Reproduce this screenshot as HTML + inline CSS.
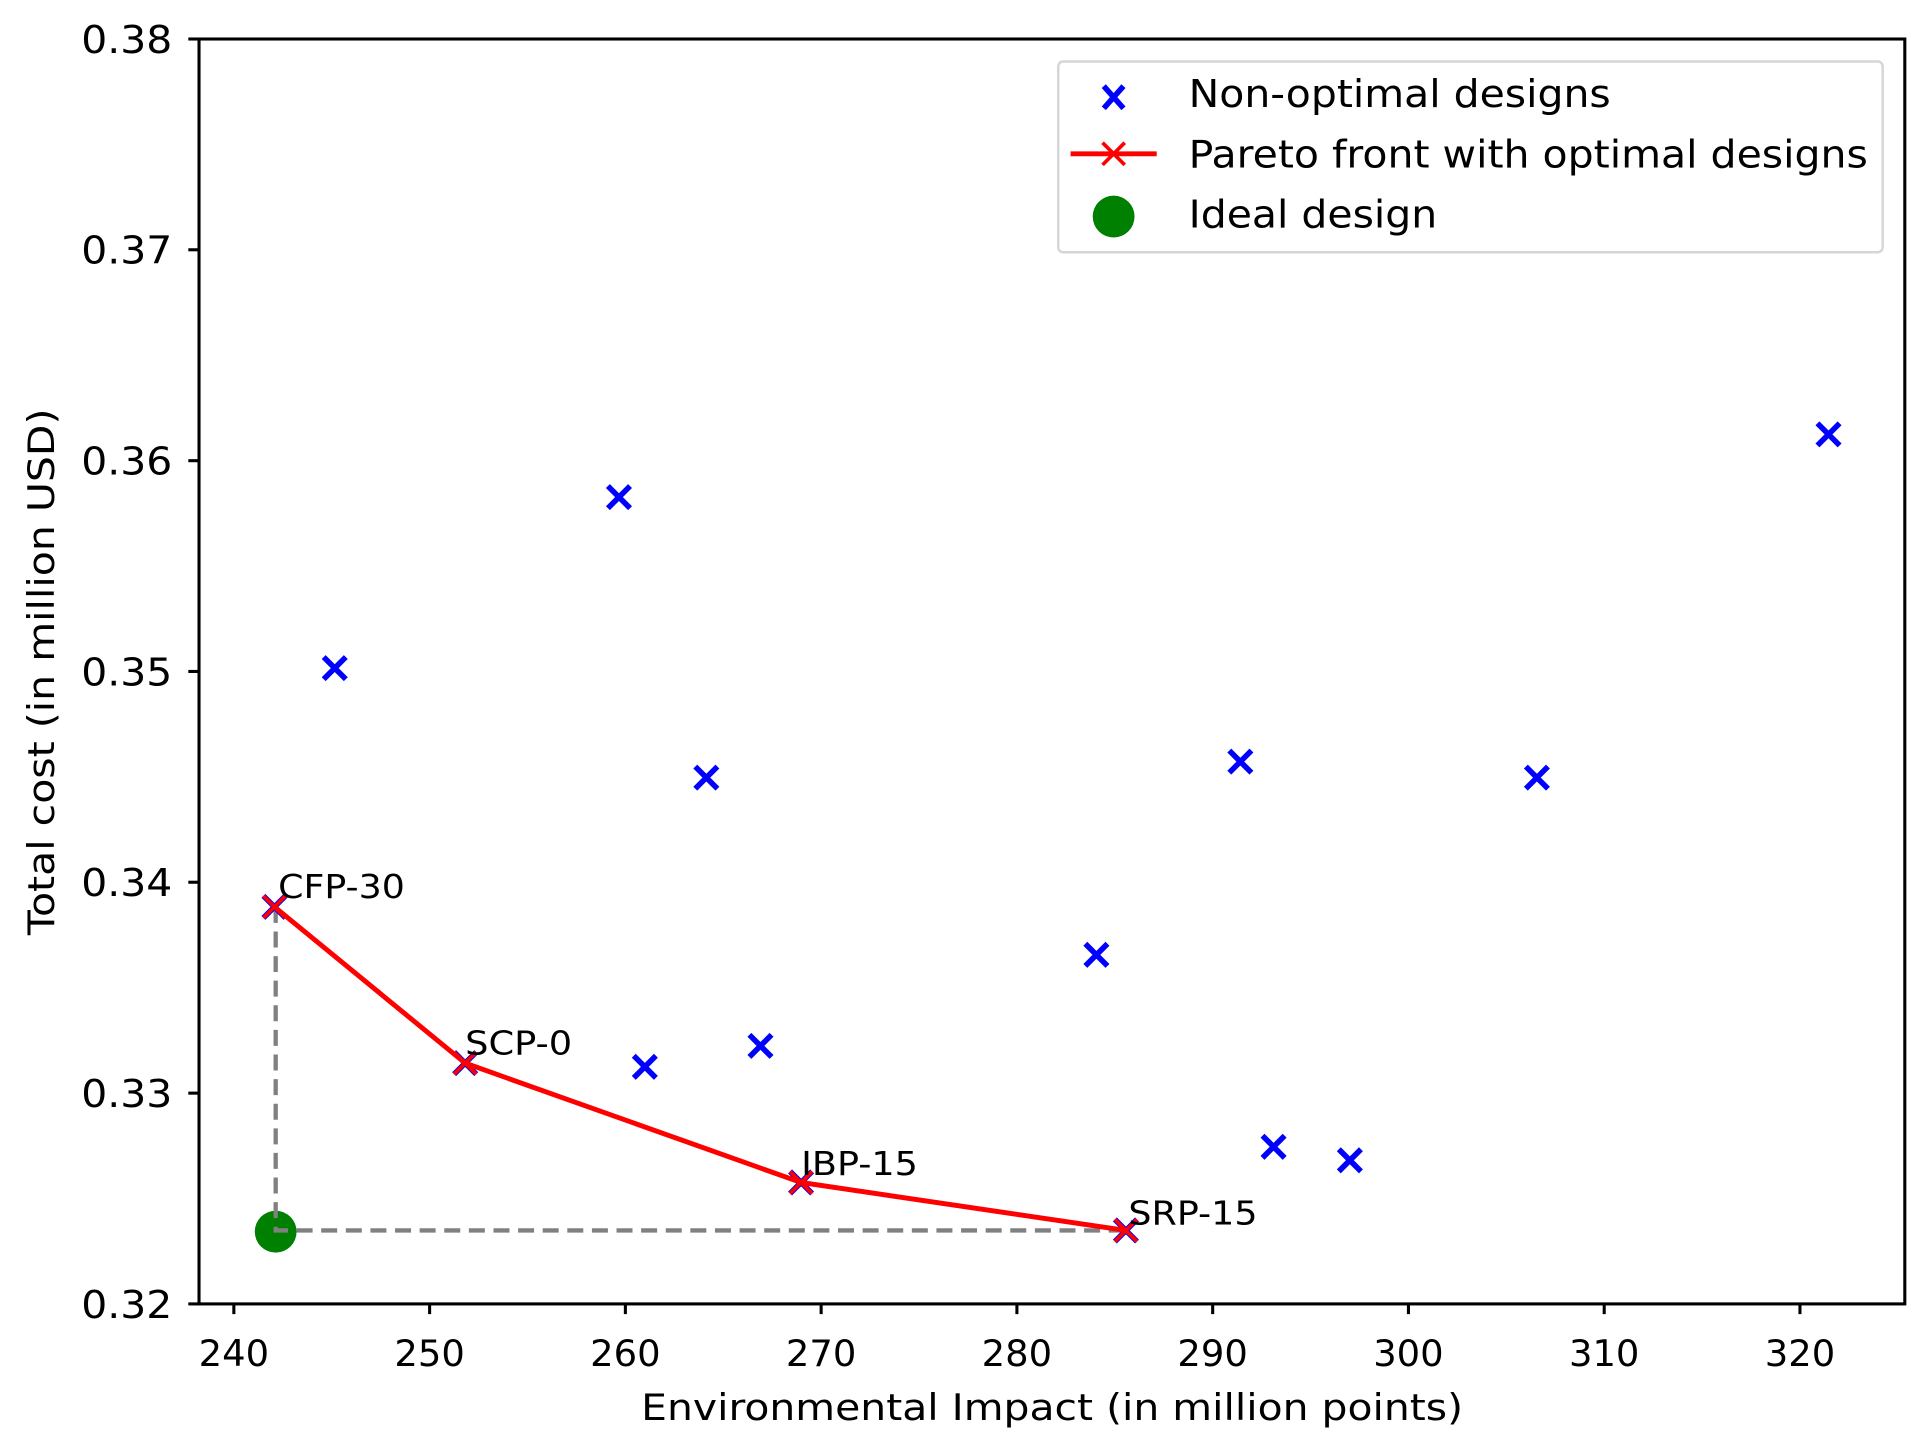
<!DOCTYPE html>
<html><head><meta charset="utf-8"><style>html,body{margin:0;padding:0;background:#fff}svg{display:block}</style></head>
<body>
<svg width="1928" height="1448" viewBox="0 0 1566.8 1176.8" xmlns="http://www.w3.org/2000/svg" font-family="DejaVu Sans, Liberation Sans, sans-serif">
<defs>
<g id="bx"><path d="M-9,-9L9,9M-9,9L9,-9" stroke="#0000ff" stroke-width="4.5"/></g>
<g id="rx"><path d="M-9,-9L9,9M-9,9L9,-9" stroke="#ff0000" stroke-width="3"/></g>
</defs>
<rect x="161.7" y="31.7" width="1386.3" height="1028" fill="none" stroke="#000" stroke-width="2.5"/>
<g stroke="#000" stroke-width="2.5">
<line x1="153" y1="1059.7" x2="161.7" y2="1059.7"/><line x1="153" y1="888.4" x2="161.7" y2="888.4"/><line x1="153" y1="717" x2="161.7" y2="717"/><line x1="153" y1="545.7" x2="161.7" y2="545.7"/><line x1="153" y1="374.4" x2="161.7" y2="374.4"/><line x1="153" y1="203" x2="161.7" y2="203"/><line x1="153" y1="31.7" x2="161.7" y2="31.7"/>
<line x1="190" y1="1059.7" x2="190" y2="1068"/><line x1="349.1" y1="1059.7" x2="349.1" y2="1068"/><line x1="508.2" y1="1059.7" x2="508.2" y2="1068"/><line x1="667.3" y1="1059.7" x2="667.3" y2="1068"/><line x1="826.4" y1="1059.7" x2="826.4" y2="1068"/><line x1="985.5" y1="1059.7" x2="985.5" y2="1068"/><line x1="1144.6" y1="1059.7" x2="1144.6" y2="1068"/><line x1="1303.7" y1="1059.7" x2="1303.7" y2="1068"/><line x1="1462.8" y1="1059.7" x2="1462.8" y2="1068"/>
</g>
<g font-size="31" fill="#000" lengthAdjust="spacingAndGlyphs">
<text x="66" y="1071" textLength="74" lengthAdjust="spacingAndGlyphs">0.32</text><text x="66" y="899.5" textLength="74" lengthAdjust="spacingAndGlyphs">0.33</text><text x="66" y="728" textLength="74" lengthAdjust="spacingAndGlyphs">0.34</text><text x="66" y="557" textLength="74" lengthAdjust="spacingAndGlyphs">0.35</text><text x="66" y="385.5" textLength="74" lengthAdjust="spacingAndGlyphs">0.36</text><text x="66" y="214" textLength="74" lengthAdjust="spacingAndGlyphs">0.37</text><text x="66" y="43" textLength="74" lengthAdjust="spacingAndGlyphs">0.38</text>
</g>
<g font-size="30" text-anchor="middle" fill="#000">
<text x="190" y="1110">240</text><text x="349.1" y="1110">250</text><text x="508.2" y="1110">260</text><text x="667.3" y="1110">270</text><text x="826.4" y="1110">280</text><text x="985.5" y="1110">290</text><text x="1144.6" y="1110">300</text><text x="1303.7" y="1110">310</text><text x="1462.8" y="1110">320</text>
<text x="855" y="1154" textLength="668" lengthAdjust="spacingAndGlyphs">Environmental Impact (in million points)</text>
<text transform="translate(44,546) rotate(-90)" textLength="428" lengthAdjust="spacingAndGlyphs">Total cost (in million USD)</text>
</g>
<circle cx="224" cy="1001" r="17" fill="#008000"/>
<path d="M224,737L224,1000L915,1000" stroke="#808080" stroke-width="3.5" fill="none" stroke-dasharray="13,7"/>
<g>
<use href="#bx" x="272" y="543"/><use href="#bx" x="503" y="404"/><use href="#bx" x="574" y="632"/><use href="#bx" x="524" y="867"/><use href="#bx" x="618" y="850"/><use href="#bx" x="891" y="776"/><use href="#bx" x="1008" y="619"/><use href="#bx" x="1035" y="932"/><use href="#bx" x="1097" y="943"/><use href="#bx" x="1249" y="632"/><use href="#bx" x="1486" y="353"/>
<use href="#bx" x="223" y="737"/><use href="#bx" x="378" y="864"/><use href="#bx" x="651" y="961"/><use href="#bx" x="915" y="1000"/>
</g>
<polyline points="223,737 378,864 651,961 915,1000" fill="none" stroke="#ff0000" stroke-width="4"/>
<use href="#rx" x="223" y="737"/><use href="#rx" x="378" y="864"/><use href="#rx" x="651" y="961"/><use href="#rx" x="915" y="1000"/>
<g font-size="27" fill="#000">
<text x="226" y="730" textLength="103" lengthAdjust="spacingAndGlyphs">CFP-30</text><text x="378" y="857" textLength="87" lengthAdjust="spacingAndGlyphs">SCP-0</text><text x="651" y="955" textLength="95" lengthAdjust="spacingAndGlyphs">IBP-15</text><text x="917" y="995" textLength="105" lengthAdjust="spacingAndGlyphs">SRP-15</text>
</g>
<rect x="860" y="50" width="670" height="155" rx="4" fill="#fff" fill-opacity="0.8" stroke="#d6d6d6" stroke-width="2"/>
<g transform="translate(905,79)"><path d="M-8,-9L8,9M-8,9L8,-9" stroke="#0000ff" stroke-width="4.5"/></g>
<line x1="870" y1="125" x2="940" y2="125" stroke="#ff0000" stroke-width="4"/>
<g transform="translate(905,125)"><path d="M-9,-9L9,9M-9,9L9,-9" stroke="#ff0000" stroke-width="3"/></g>
<circle cx="905" cy="176" r="17" fill="#008000"/>
<g font-size="31" fill="#000">
<text x="966" y="87" textLength="343" lengthAdjust="spacingAndGlyphs">Non-optimal designs</text><text x="966" y="136" textLength="552" lengthAdjust="spacingAndGlyphs">Pareto front with optimal designs</text><text x="966" y="185" textLength="202" lengthAdjust="spacingAndGlyphs">Ideal design</text>
</g>
</svg>
</body></html>
